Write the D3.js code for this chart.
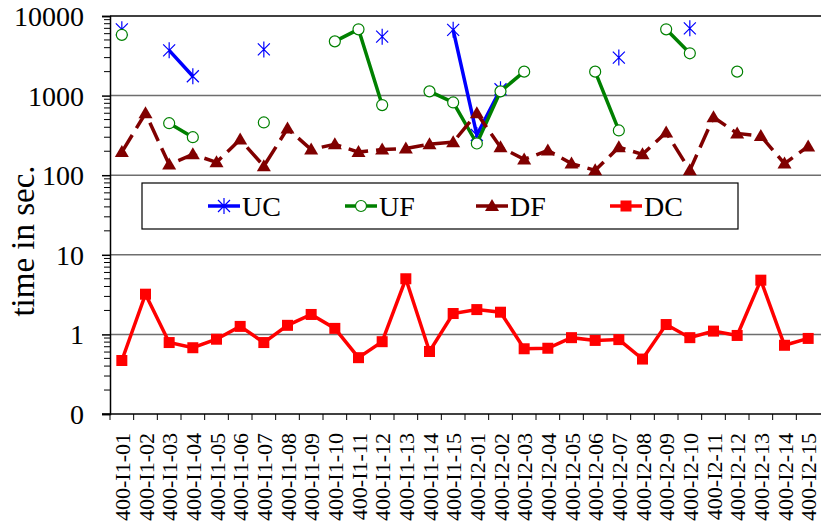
<!DOCTYPE html>
<html>
<head>
    <meta charset="utf-8">
    <title>time in sec.</title>
    <script src="https://d3js.org/d3.v7.min.js"></script>
    <style>
        body { margin: 0; background: #fff; }
        text { font-family: "Liberation Serif", "Times New Roman", Times, serif; fill: #000; }
    </style>
</head>
<body>
    <div id="chart"></div>

    <script>
        // categories (x axis)
        const categories = [
            "400-I1-01", "400-I1-02", "400-I1-03", "400-I1-04", "400-I1-05",
            "400-I1-06", "400-I1-07", "400-I1-08", "400-I1-09", "400-I1-10",
            "400-I1-11", "400-I1-12", "400-I1-13", "400-I1-14", "400-I1-15",
            "400-I2-01", "400-I2-02", "400-I2-03", "400-I2-04", "400-I2-05",
            "400-I2-06", "400-I2-07", "400-I2-08", "400-I2-09", "400-I2-10",
            "400-I2-11", "400-I2-12", "400-I2-13", "400-I2-14", "400-I2-15"
        ];

        // series values (null = no value)
        const ucValues = [6800, null, 3700, 1750, null, null, 3800, null, null, null,
                          null, 5500, null, null, 6700, 320, 1200, null, null, null,
                          null, 3000, null, null, 7000, null, null, null, null, null];
        const ufValues = [5800, null, 450, 300, null, null, 460, null, null, 4800,
                          6800, 760, null, 1130, 820, 250, 1130, 2000, null, null,
                          2000, 365, null, 6800, 3400, null, 2000, null, null, null];
        const dfValues = [195, 600, 136, 183, 145, 280, 130, 385, 210, 245,
                          195, 210, 217, 245, 260, 600, 225, 158, 205, 140,
                          115, 225, 183, 345, 115, 535, 335, 310, 140, 230];
        const dcValues = [0.47, 3.2, 0.79, 0.68, 0.87, 1.26, 0.79, 1.3, 1.78, 1.19,
                          0.51, 0.81, 5.0, 0.61, 1.83, 2.05, 1.9, 0.66, 0.67, 0.91,
                          0.84, 0.86, 0.49, 1.33, 0.91, 1.1, 0.97, 4.8, 0.73, 0.89];

        // y tick values and their labels
        const yTicks = [0.1, 1, 10, 100, 1000, 10000];
        const yTickLabels = ["0", "1", "10", "100", "1000", "10000"];

        const seriesNames = ["UC", "UF", "DF", "DC"];

        const W = 821, H = 528;
        const plot = {left: 110, right: 820, top: 16, bottom: 414};
        const serif = '"Liberation Serif", "Times New Roman", Times, serif';

        const svg = d3.select("#chart")
            .append("svg")
            .attr("width", W)
            .attr("height", H);

        const x = d3.scaleBand()
            .domain(categories)
            .range([plot.left, plot.right]);
        const cx = c => x(c) + x.bandwidth() / 2;

        const y = d3.scaleLog()
            .domain([0.1, 10000])
            .range([plot.bottom, plot.top]);

        // gridlines
        svg.append("g")
            .selectAll("line")
            .data(yTicks.slice(1))
            .enter()
            .append("line")
            .attr("x1", plot.left)
            .attr("x2", W)
            .attr("y1", d => y(d))
            .attr("y2", d => y(d))
            .attr("stroke", d => d === 10000 ? "#000" : "#6e6e6e")
            .attr("stroke-width", 1.5);

        // minor ticks on the log axis
        const minor = [];
        for (let p = -1; p < 4; p++) {
            for (let k = 2; k <= 9; k++) minor.push(k * Math.pow(10, p));
        }
        svg.append("g")
            .selectAll("line")
            .data(minor)
            .enter()
            .append("line")
            .attr("x1", plot.left - 6)
            .attr("x2", plot.left)
            .attr("y1", d => y(d))
            .attr("y2", d => y(d))
            .attr("stroke", "#000")
            .attr("stroke-width", 1);

        // y axis (line + major ticks), labels drawn separately
        const yAxis = svg.append("g")
            .attr("transform", `translate(${plot.left},0)`)
            .call(d3.axisLeft(y)
                .tickValues(yTicks)
                .tickFormat("")
                .tickSize(8));
        yAxis.select(".domain").attr("stroke", "#000").attr("stroke-width", 1.5);
        yAxis.selectAll(".tick line").attr("stroke-width", 1.5);

        svg.append("g")
            .selectAll("text")
            .data(yTicks)
            .enter()
            .append("text")
            .attr("x", 84)
            .attr("y", d => y(d) + 10)
            .attr("text-anchor", "end")
            .style("font-family", serif)
            .style("font-size", "28px")
            .text((d, i) => yTickLabels[i]);

        // x axis: line, ticks between categories, rotated labels
        svg.append("line")
            .attr("x1", plot.left - 8).attr("x2", W)
            .attr("y1", plot.bottom).attr("y2", plot.bottom)
            .attr("stroke", "#000").attr("stroke-width", 1.5);
        svg.append("g")
            .selectAll("line")
            .data(categories)
            .enter()
            .append("line")
            .attr("x1", d => x(d))
            .attr("x2", d => x(d))
            .attr("y1", plot.bottom)
            .attr("y2", plot.bottom + 6)
            .attr("stroke", "#000");
        svg.append("g")
            .selectAll("text")
            .data(categories)
            .enter()
            .append("text")
            .attr("transform", d => `translate(${cx(d) + 8},${plot.bottom + 19}) rotate(-90)`)
            .attr("text-anchor", "end")
            .style("font-family", serif)
            .style("font-size", "22px")
            .text(d => d);

        // y title
        svg.append("text")
            .attr("transform", "translate(34,241) rotate(-90)")
            .attr("text-anchor", "middle")
            .style("font-family", serif)
            .style("font-size", "33px")
            .text("time in sec.");

        // series lines
        const line = d3.line()
            .defined(d => d.v != null)
            .x(d => cx(d.c))
            .y(d => y(d.v));
        const pts = vals => categories.map((c, i) => ({c: c, v: vals[i]}));

        const star = "M-6,-6L6,6M-6,6L6,-6M0,-8V8";

        function drawUC(g, px, py) {
            g.append("path").attr("d", star)
                .attr("transform", `translate(${px},${py})`)
                .attr("stroke", "#0000ff").attr("stroke-width", 1.2).attr("fill", "none");
        }
        function drawUF(g, px, py) {
            g.append("circle").attr("cx", px).attr("cy", py).attr("r", 5.5)
                .attr("fill", "#fff").attr("stroke", "#008000").attr("stroke-width", 1.2);
        }
        function drawDF(g, px, py) {
            g.append("path").attr("d", "M0,-7L7,5L-7,5Z")
                .attr("transform", `translate(${px},${py})`)
                .attr("fill", "#800000");
        }
        function drawDC(g, px, py) {
            g.append("rect").attr("x", px - 5.5).attr("y", py - 5.5)
                .attr("width", 11).attr("height", 11)
                .attr("fill", "#ff0000");
        }

        const series = [
            {vals: ucValues, color: "#0000ff", dash: null, marker: drawUC},
            {vals: ufValues, color: "#008000", dash: null, marker: drawUF},
            {vals: dfValues, color: "#800000", dash: "20,8", marker: drawDF},
            {vals: dcValues, color: "#ff0000", dash: null, marker: drawDC}
        ];

        series.forEach(s => {
            const g = svg.append("g");
            g.append("path")
                .datum(pts(s.vals))
                .attr("d", line)
                .attr("fill", "none")
                .attr("stroke", s.color)
                .attr("stroke-width", 3.5)
                .attr("stroke-dasharray", s.dash);
            pts(s.vals).filter(d => d.v != null)
                .forEach(d => s.marker(g, cx(d.c), y(d.v)));
        });

        // legend
        const legend = svg.append("g");
        legend.append("rect")
            .attr("x", 142).attr("y", 183)
            .attr("width", 596).attr("height", 46)
            .attr("fill", "#fff").attr("stroke", "#000").attr("stroke-width", 1.2);
        const legendX = [208, 345, 476, 610];
        seriesNames.forEach((name, i) => {
            const s = series[i];
            const lx = legendX[i], ly = 206;
            legend.append("line")
                .attr("x1", lx).attr("x2", lx + 32)
                .attr("y1", ly).attr("y2", ly)
                .attr("stroke", s.color).attr("stroke-width", 3.5);
            s.marker(legend, lx + 16, ly);
            legend.append("text")
                .attr("x", lx + 34).attr("y", ly + 10)
                .style("font-family", serif)
                .style("font-size", "28px")
                .text(name);
        });
    </script>
</body>
</html>
